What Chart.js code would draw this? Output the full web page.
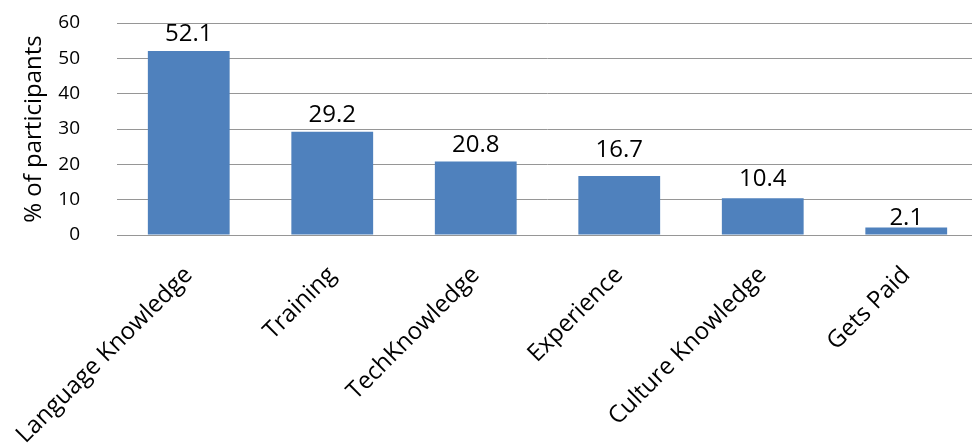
<!DOCTYPE html>
<html>
<head>
<meta charset="utf-8">
<script src="https://cdn.jsdelivr.net/npm/chart.js@4/dist/chart.umd.min.js"></script>
<style>
    html, body { margin: 0; padding: 0; background: #fff; overflow: hidden; }
    #wrap { width: 978px; height: 444px; }
</style>
</head>
<body>
<div id="wrap"><canvas id="reasonsChart" width="978" height="444"></canvas></div>
<script>
// Reasons given by participants
const categories = ['Language Knowledge', 'Training', 'TechKnowledge', 'Experience', 'Culture Knowledge', 'Gets Paid'];
const percentages = [52.1, 29.2, 20.8, 16.7, 10.4, 2.1];
const yTicks = [0, 10, 20, 30, 40, 50, 60];

const FONT = "'Open Sans', sans-serif";

// prints each bar's value just above it
const valueLabels = {
    id: 'valueLabels',
    afterDatasetsDraw(chart, args, opts) {
        const ctx = chart.ctx;
        const meta = chart.getDatasetMeta(0);
        ctx.save();
        ctx.font = opts.size + 'px ' + FONT;
        ctx.fillStyle = '#000';
        ctx.textAlign = 'center';
        ctx.textBaseline = 'alphabetic';
        meta.data.forEach((bar, i) => {
            const nudge = (opts.nudge && opts.nudge[i]) || 0;
            ctx.fillText(percentages[i].toFixed(1), bar.x, bar.y - opts.gap + nudge);
        });
        ctx.restore();
    }
};

const ctx = document.getElementById('reasonsChart').getContext('2d');
const reasonsChart = new Chart(ctx, {
    type: 'bar',
    data: {
        labels: categories,
        datasets: [{
            data: percentages,
            backgroundColor: '#4F81BD',
            borderWidth: 0,
            categoryPercentage: 1,
            barPercentage: 0.57
        }]
    },
    options: {
        responsive: false,
        animation: false,
        layout: { padding: { left: 0, right: 0, top: 23, bottom: 0 } },
        plugins: {
            legend: { display: false },
            tooltip: { enabled: false },
            valueLabels: { size: 24, gap: 10, nudge: [0, 0, 0, -9, -2, 7] }
        },
        scales: {
            x: {
                grid: { display: false, drawTicks: false },
                border: { display: true, color: '#969696', width: 1 },
                ticks: {
                    color: '#000',
                    font: { family: FONT, size: 24 },
                    minRotation: 45,
                    maxRotation: 45,
                    padding: 26,
                    labelOffset: 0,
                    autoSkip: false
                },
                afterFit(scale) {
                    scale.height = 444 - 23 - 212;
                    scale.paddingLeft = 0;
                    scale.paddingRight = 0;
                }
            },
            y: {
                min: 0,
                max: 60,
                afterBuildTicks(scale) { scale.ticks = yTicks.map(v => ({ value: v })); },
                grid: { color: '#969696', lineWidth: 1, drawTicks: false },
                border: { display: false },
                ticks: {
                    color: '#000',
                    font: { family: FONT, size: 19 },
                    padding: 37
                },
                title: {
                    display: true,
                    text: '% of participants',
                    color: '#000',
                    font: { family: FONT, size: 24 },
                    padding: { top: 20, bottom: 0 }
                },
                afterFit(scale) {
                    scale.width = 117;
                    scale.paddingTop = 0;
                    scale.paddingBottom = 0;
                }
            }
        }
    },
    plugins: [valueLabels]
});
</script>
</body>
</html>
